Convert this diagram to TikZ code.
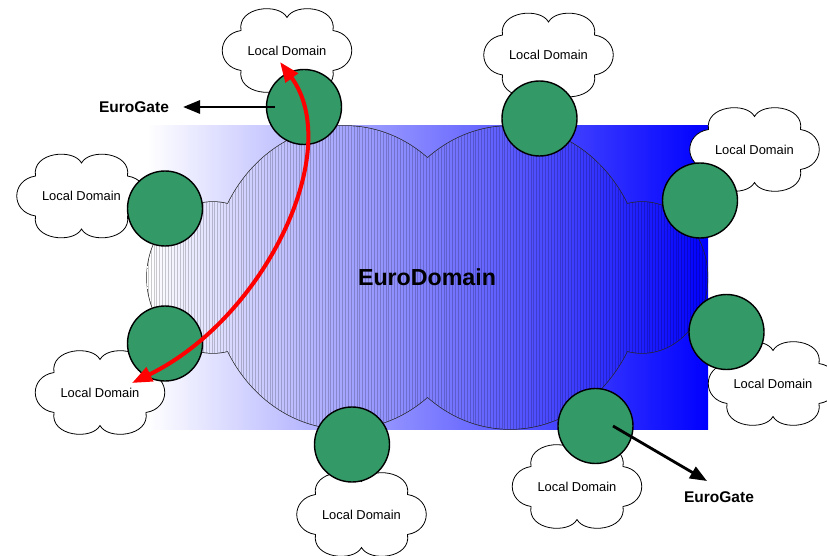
\documentclass[tikz,border=0pt]{standalone}
\usepackage{fontspec}
\setmainfont{Liberation Sans}
\usetikzlibrary{arrows.meta}
\definecolor{gategreen}{RGB}{51,153,102}
\newcommand{\LDcloud}[3]{%
  \draw[ldline, shift={(#2,#3)}] (-46,-20) .. controls (-50,-44) and (-8,-48) .. (0,-33)
     .. controls (8,-48) and (50,-44) .. (46,-20)
     .. controls (71,-16) and (71,16) .. (46,20)
     .. controls (50,44) and (8,48) .. (0,33)
     .. controls (-8,48) and (-50,44) .. (-46,20)
     .. controls (-71,16) and (-71,-16) .. (-46,-20) -- cycle;
  \node[ldtext] (#1) at (#2,#3) {Local Domain};}
\begin{document}
\begin{tikzpicture}[x=1pt,y=-1pt,
  gate/.style={circle,draw=black,line width=1.4pt,fill=gategreen,minimum size=75pt,inner sep=0pt},
  ldline/.style={draw=black,line width=0.8pt,fill=white},
  ldtext/.style={font=\fontsize{12.9}{15}\selectfont,inner sep=1pt},
  gatelabel/.style={font=\bfseries\fontsize{15.5}{18}\selectfont,inner sep=2pt},
  gatearrow/.style={line width=2.8pt,-{Triangle[length=17pt,width=13pt]}},
  redarrow/.style={red,line width=4pt,{Triangle[length=20pt,width=15pt]}-{Triangle[length=20pt,width=15pt]}},
  hatch/.style={black,opacity=0.2,line width=0.5pt},
  bigline/.style={draw=black!85,line width=1.4pt}]
\useasboundingbox (0,0) rectangle (827,556);
\clip (0,0) rectangle (827,556);
% background gradient rectangle
\shade[left color=white,right color=blue] (147,126) rectangle (708,429);
% big cloud outline
\draw[bigline] (345,277.5) ellipse [x radius=134pt,y radius=151.5pt];
\draw[bigline] (510,277.5) ellipse [x radius=134pt,y radius=151.5pt];
\draw[bigline] (213,277.5) ellipse [x radius=66pt,y radius=75.5pt];
\draw[bigline] (642,277.5) ellipse [x radius=65.5pt,y radius=75.5pt];
\begin{scope}
  \clip (345,277.5) ellipse [x radius=134pt,y radius=151.5pt]
        (510,277.5) ellipse [x radius=134pt,y radius=151.5pt]
        (213,277.5) ellipse [x radius=66pt,y radius=75.5pt]
        (642,277.5) ellipse [x radius=65.5pt,y radius=75.5pt];
  \shade[left color=white,right color=blue] (147,126) rectangle (708,429);
  \foreach \x in {148,150.9,...,707} \draw[hatch] (\x,120) -- (\x,435);
\end{scope}
\node[font=\bfseries\fontsize{23.2}{28}\selectfont] (ed) at (427,277) {EuroDomain};
% local domains
\LDcloud{ldA}{287}{50.5}
\LDcloud{ldB}{81.5}{196}
\LDcloud{ldC}{100}{392.5}
\LDcloud{ldD}{361.5}{514.5}
\LDcloud{ldE}{548.5}{55}
\LDcloud{ldF}{754.5}{149.5}
\LDcloud{ldG}{773}{383.5}
\LDcloud{ldH}{577}{486.5}
% gates
\node[gate] (g1) at (304,107) {};
\node[gate] (g2) at (165,208.5) {};
\node[gate] (g3) at (165,343.5) {};
\node[gate] (g4) at (352,444.5) {};
\node[gate] (g5) at (539.5,118.5) {};
\node[gate] (g6) at (700,200.5) {};
\node[gate] (g7) at (726.5,332) {};
\node[gate] (g8) at (595.5,426) {};
% EuroGate labels and arrows
\node[gatelabel] (eg1) at (134,107) {EuroGate};
\node[gatelabel] (eg2) at (719,497) {EuroGate};
\coordinate (eg1tip) at (183,107);
\coordinate (eg2tip) at (707,481);
\draw[gatearrow] ([xshift=-29pt]g1.center) -- (eg1tip);
\draw[gatearrow] ([xshift=17.5pt]g8.center) -- (eg2tip);
% red path between local domains
\coordinate (redtop) at (280,62);
\coordinate (redbot) at (132,383);
\draw[redarrow] (redtop) .. controls (345,150) and (265,318) .. (redbot);
\end{tikzpicture}
\end{document}
